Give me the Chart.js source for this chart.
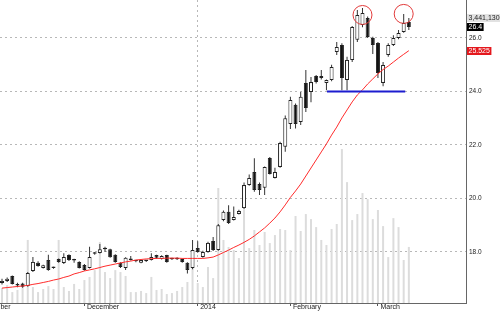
<!DOCTYPE html>
<html lang="en">
<head>
<meta charset="utf-8">
<title>Velas diarias</title>
<script src="https://cdn.jsdelivr.net/npm/chart.js@4.4.1/dist/chart.umd.min.js"></script>
<style>
  html, body { margin: 0; padding: 0; background: #fff; }
  #wrap { width: 500px; height: 312px; }
</style>
</head>
<body>
<div id="wrap"><canvas id="stockChart" width="500" height="312"></canvas></div>
<script>
// Datos diarios (una sesión por índice, 0..79)
const opens = [
  16.84, 16.92, 17.10, 16.77, 16.82, 16.73, 17.29, 17.60, 17.40, 17.70,
  17.41, 17.74, 17.59, 17.89, 17.70, 17.63, 17.51, 17.40, 17.94, 17.96,
  18.10, 18.10, 17.90, 17.60, 17.40, 17.70, 17.66, 17.60, 17.67, 17.70,
  17.89, 17.74, 17.89, 17.74, 17.73, 17.74, 17.60, 17.40, 18.15, 17.81,
  18.00, 18.41, 18.07, 19.20, 19.50, 19.20, 19.42, 19.64, 20.50, 20.99,
  20.54, 20.40, 21.51, 20.77, 21.18, 21.93, 22.78, 23.50, 22.86, 24.32,
  23.98, 24.58, 24.50, 24.32, 24.43, 25.48, 25.74, 24.43, 25.18, 25.93,
  26.49, 26.75, 26.00, 25.81, 24.32, 25.36, 25.74, 26.00, 26.22, 26.60
];
const highs = [
  17.00, 17.05, 17.12, 16.85, 16.85, 17.25, 17.81, 17.65, 17.52, 17.90,
  17.45, 17.76, 17.95, 17.92, 17.75, 17.65, 17.55, 18.20, 18.00, 18.30,
  18.20, 18.12, 17.92, 17.62, 17.80, 17.85, 17.70, 17.72, 17.70, 17.95,
  17.90, 17.88, 17.90, 17.78, 17.80, 17.76, 17.62, 18.45, 18.40, 18.05,
  18.38, 18.56, 19.05, 19.55, 19.75, 19.70, 19.58, 20.60, 20.90, 21.50,
  20.60, 21.20, 21.55, 21.15, 22.12, 23.10, 23.80, 23.55, 23.98, 24.80,
  24.54, 24.62, 24.80, 24.45, 25.00, 25.85, 25.80, 25.30, 26.45, 27.05,
  27.12, 26.80, 26.05, 25.85, 25.10, 25.80, 26.10, 26.30, 26.90, 26.75
];
const lows = [
  16.78, 16.88, 16.78, 16.68, 16.66, 16.70, 17.25, 17.45, 17.38, 17.30,
  17.37, 17.60, 17.55, 17.66, 17.60, 17.38, 17.30, 17.38, 17.90, 17.94,
  18.00, 17.78, 17.60, 17.40, 17.33, 17.68, 17.62, 17.58, 17.63, 17.68,
  17.75, 17.72, 17.60, 17.70, 17.70, 17.60, 17.20, 17.35, 17.97, 17.78,
  17.97, 18.04, 18.05, 19.15, 19.05, 19.18, 19.40, 19.60, 20.48, 20.25,
  20.13, 20.13, 20.90, 20.75, 21.15, 21.75, 22.60, 22.62, 22.75, 23.23,
  23.60, 24.30, 24.45, 24.05, 24.38, 25.36, 24.05, 24.05, 25.10, 25.85,
  26.40, 26.00, 25.40, 24.50, 24.20, 25.30, 25.70, 25.95, 26.20, 26.30
];
const closes = [
  16.92, 17.00, 16.80, 16.75, 16.70, 17.21, 17.63, 17.48, 17.50, 17.33,
  17.40, 17.63, 17.81, 17.70, 17.68, 17.40, 17.33, 17.81, 17.93, 18.10,
  18.11, 17.80, 17.63, 17.44, 17.78, 17.71, 17.65, 17.70, 17.66, 17.81,
  17.78, 17.85, 17.63, 17.73, 17.74, 17.63, 17.33, 18.07, 18.00, 18.00,
  18.34, 18.07, 19.00, 19.50, 19.08, 19.31, 19.53, 20.50, 20.77, 20.32,
  20.32, 21.18, 20.92, 20.99, 22.07, 23.00, 23.68, 22.78, 23.80, 23.38,
  24.35, 24.35, 24.58, 24.43, 24.92, 25.66, 24.50, 25.18, 26.41, 26.86,
  26.93, 26.04, 25.74, 24.69, 24.99, 25.74, 26.00, 26.19, 26.56, 26.41
];
// Volumen en millones de acciones
const volumes = [
  0.92, 1.10, 0.67, 0.80, 1.17, 3.87, 0.98, 0.67, 0.86, 1.04,
  0.86, 3.87, 0.98, 0.74, 1.17, 0.86, 1.41, 1.60, 2.02, 3.74,
  1.90, 1.53, 2.02, 1.90, 1.66, 0.67, 0.67, 0.74, 0.61, 1.60,
  0.80, 0.86, 0.55, 0.61, 0.74, 0.98, 1.29, 2.45, 1.23, 0.98,
  2.21, 1.53, 7.06, 3.87, 3.44, 3.25, 2.76, 5.71, 3.37, 4.48,
  3.56, 4.36, 3.68, 4.17, 4.54, 4.48, 3.25, 5.34, 4.42, 5.46,
  5.15, 4.66, 3.87, 3.56, 4.54, 4.85, 9.45, 7.42, 5.09, 5.46,
  6.75, 6.38, 5.15, 5.71, 4.72, 2.82, 5.21, 4.66, 2.64, 3.44113
];
// Media móvil (línea roja)
const maValues = [
  16.65, 16.67, 16.69, 16.71, 16.73, 16.75, 16.79, 16.82, 16.86, 16.90,
  16.95, 16.99, 17.05, 17.10, 17.18, 17.23, 17.29, 17.33, 17.37, 17.42,
  17.47, 17.51, 17.55, 17.59, 17.63, 17.66, 17.70, 17.72, 17.74, 17.75,
  17.76, 17.76, 17.77, 17.77, 17.77, 17.76, 17.76, 17.76, 17.76, 17.76,
  17.78, 17.81, 17.89, 17.98, 18.07, 18.17, 18.26, 18.36, 18.47, 18.60,
  18.75, 18.90, 19.08, 19.27, 19.50, 19.76, 20.04, 20.28, 20.54, 20.84,
  21.14, 21.44, 21.74, 22.04, 22.37, 22.67, 23.01, 23.31, 23.61, 23.87,
  24.06, 24.28, 24.47, 24.66, 24.82, 24.95, 25.10, 25.25, 25.39, 25.525
];
const monthTicks = [-5.1, 16, 38, 56, 73];
const monthLabels = ["November", "December", "2014", "February", "March"];
const yearTick = 38;
const priceTicks = [18, 20, 22, 24, 26];
// Soporte (línea azul) y máximos marcados (círculos)
const supportLevel = 24.0;
const supportRange = [63.1, 78.3];
const peakMarks = [{ x: 70, y: 26.86 }, { x: 78, y: 26.9 }];

const FONT = "'Liberation Sans', Arial, sans-serif";
Chart.defaults.font.family = FONT;

function drawTag(ctx, x, y, text, bg, fg) {
  ctx.save();
  ctx.font = "7px " + FONT;
  const w = ctx.measureText(text).width + 3;
  ctx.fillStyle = bg;
  ctx.fillRect(x, Math.round(y - 4), w, 8);
  ctx.fillStyle = fg;
  ctx.textBaseline = "middle";
  ctx.fillText(text, x + 1.5, y + 0.5);
  ctx.restore();
}

// Etiquetas del último valor a la derecha del eje
const lastValueTags = {
  id: "lastValueTags",
  afterDraw(chart) {
    const ctx = chart.ctx;
    const yScale = chart.scales.y;
    const left = chart.chartArea.right + 1;
    const last = closes.length - 1;
    const yClose = yScale.getPixelForValue(closes[last]);
    const yMa = yScale.getPixelForValue(maValues[last]);
    drawTag(ctx, left, yClose - 9, Math.round(volumes[last] * 1e6).toLocaleString("en-US"), "#e2e2e2", "#222");
    drawTag(ctx, left, yClose, closes[last].toFixed(1), "#000", "#fff");
    drawTag(ctx, left, yMa, maValues[last].toFixed(3), "#e4181d", "#fff");
  }
};

const bodies = opens.map((o, i) => ({ x: i, y: [o, closes[i]] }));
const wicks = lows.map((l, i) => ({ x: i, y: [l, highs[i]] }));
const volumeBars = volumes.map((v, i) => ({ x: i, y: v }));
const maLine = maValues.map((v, i) => ({ x: i, y: v }));
const supportLine = supportRange.map(x => ({ x: x, y: supportLevel }));

const chartCtx = document.getElementById("stockChart").getContext("2d");
new Chart(chartCtx, {
  type: "bar",
  data: {
    datasets: [
      {
        type: "scatter",
        data: peakMarks,
        pointStyle: "circle",
        pointRadius: 9.5,
        pointBackgroundColor: "rgba(0,0,0,0)",
        pointBorderColor: "#e23b3b",
        pointBorderWidth: 1,
        order: 0
      },
      {
        type: "line",
        data: supportLine,
        borderColor: "#1c1ccf",
        borderWidth: 2,
        pointRadius: 0,
        order: 1
      },
      {
        type: "line",
        data: maLine,
        borderColor: "#ff2b2b",
        borderWidth: 1,
        pointRadius: 0,
        tension: 0,
        order: 2
      },
      {
        data: bodies,
        backgroundColor: c => (closes[c.dataIndex] >= opens[c.dataIndex] ? "#fff" : "#111"),
        borderColor: "#222",
        borderWidth: 1,
        borderSkipped: false,
        barThickness: 4,
        minBarLength: 1.5,
        inflateAmount: 0,
        grouped: false,
        order: 3
      },
      {
        data: wicks,
        backgroundColor: "#333",
        barThickness: 1,
        inflateAmount: 0,
        grouped: false,
        order: 4
      },
      {
        data: volumeBars,
        yAxisID: "yv",
        backgroundColor: "#dcdcdc",
        barThickness: 2,
        inflateAmount: 0,
        grouped: false,
        order: 5
      }
    ]
  },
  options: {
    responsive: false,
    animation: false,
    layout: { padding: 0, autoPadding: false },
    plugins: { legend: { display: false }, tooltip: { enabled: false } },
    scales: {
      x: {
        type: "linear",
        min: -0.39,
        max: 90.1,
        offset: false,
        afterBuildTicks: s => { s.ticks = monthTicks.map(v => ({ value: v })); },
        afterFit: s => { s.height = 9; s.paddingLeft = 0; s.paddingRight = 0; s.paddingTop = 0; s.paddingBottom = 0; },
        ticks: {
          autoSkip: false,
          maxRotation: 0,
          align: "start",
          labelOffset: 2.5,
          padding: -3,
          color: "#222",
          font: { size: 7 },
          callback: (v, i) => monthLabels[i]
        },
        grid: {
          offset: false,
          color: c => (c.tick && c.tick.value === yearTick ? "#b8b8b8" : "rgba(0,0,0,0)"),
          tickColor: "#555",
          tickLength: 3
        },
        border: { display: true, color: "#666", width: 1, dash: [2, 3] }
      },
      y: {
        position: "right",
        min: 16.093,
        max: 27.42,
        afterBuildTicks: s => { s.ticks = priceTicks.map(v => ({ value: v })); },
        afterFit: s => { s.width = 34; s.paddingTop = 0; s.paddingBottom = 0; s.paddingLeft = 0; s.paddingRight = 0; },
        ticks: {
          padding: 3,
          color: "#222",
          font: { size: 6.5 },
          callback: v => Number(v).toFixed(1)
        },
        grid: { color: "#b8b8b8", drawTicks: false },
        border: { display: true, color: "#666", width: 1, dash: [2, 3] }
      },
      yv: { display: false, min: 0, max: 18.6 }
    }
  },
  plugins: [lastValueTags]
});
</script>
</body>
</html>
